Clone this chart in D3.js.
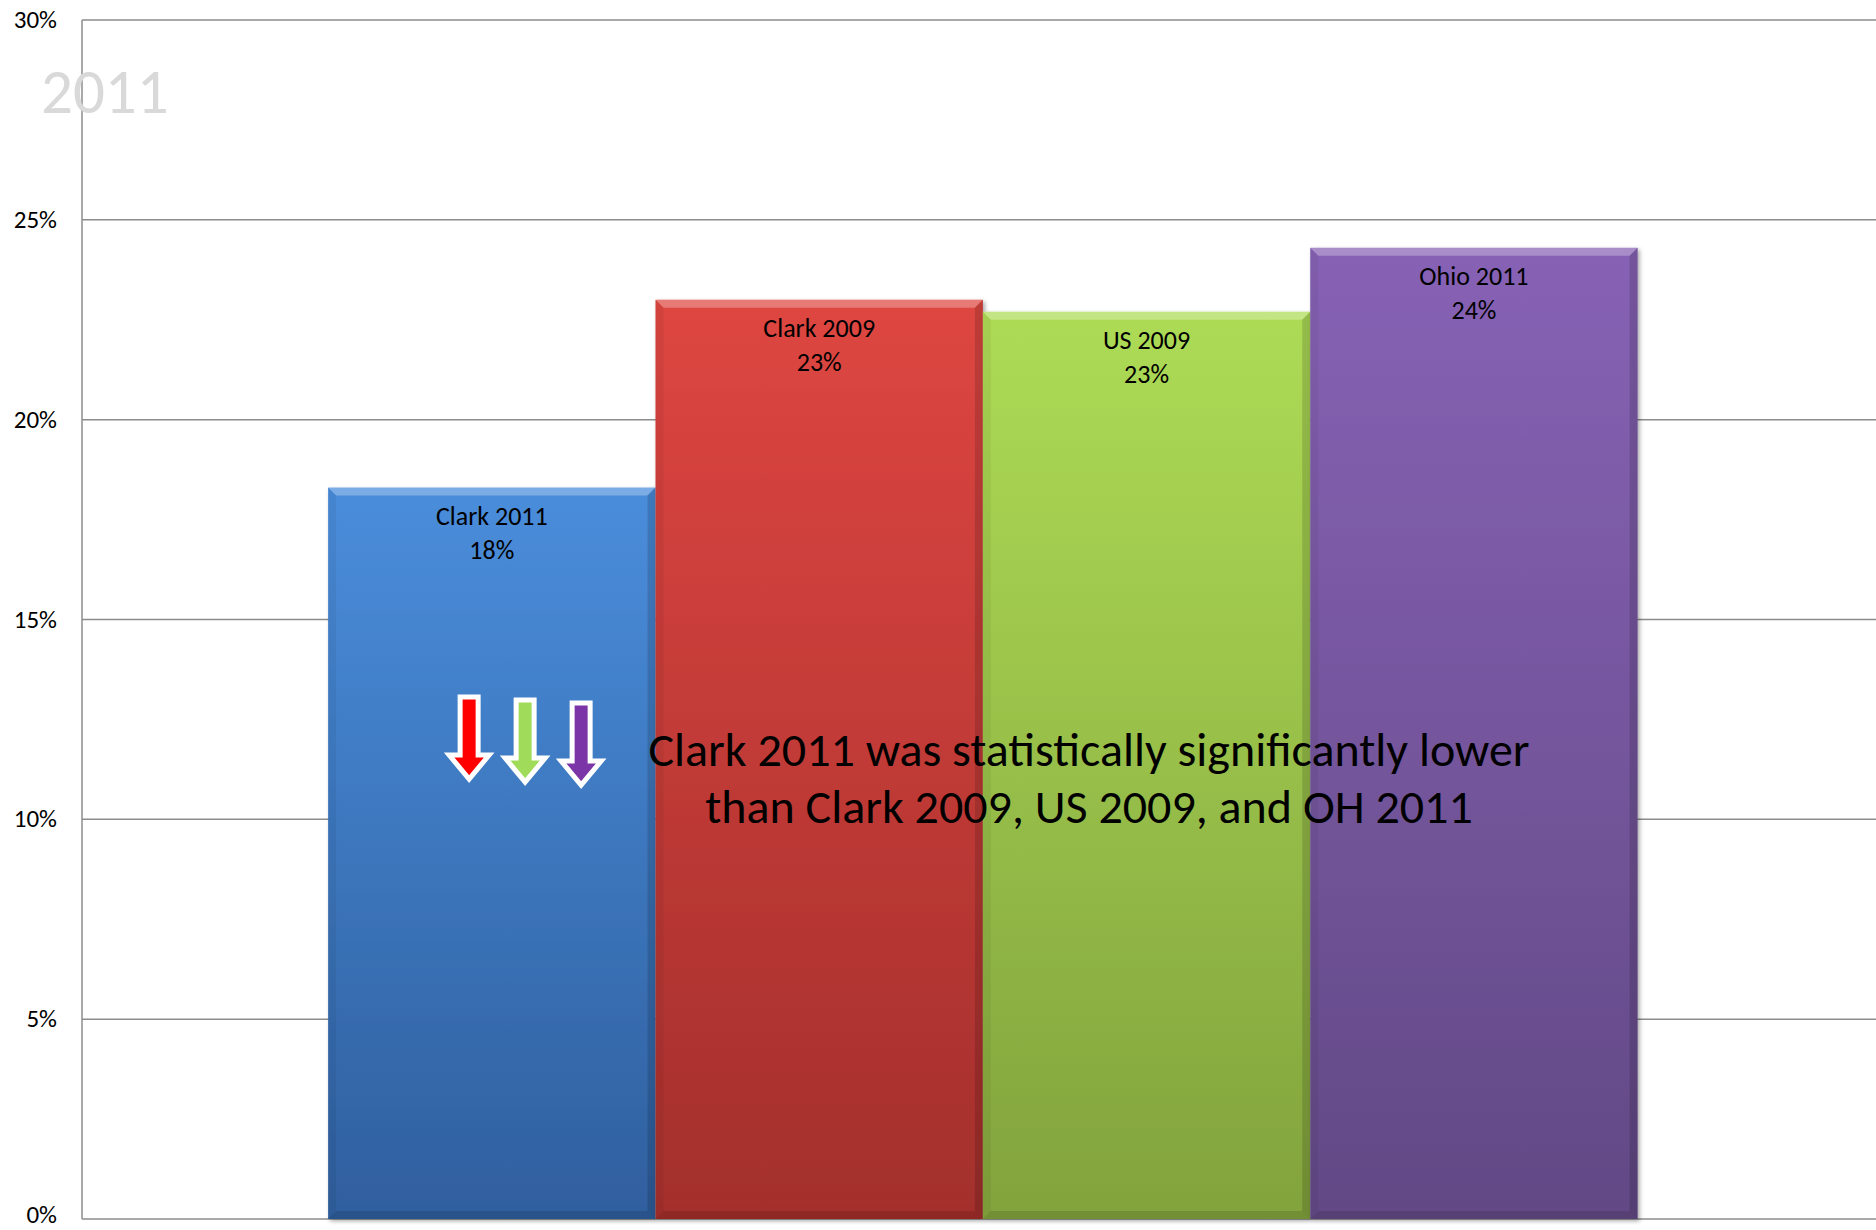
<!DOCTYPE html>
<html>
<head>
<meta charset="utf-8">
<script src="https://cdn.jsdelivr.net/npm/d3@7"></script>
<style>
  html, body { margin: 0; padding: 0; background: #fff; }
  svg { display: block; font-family: Carlito, Calibri, Lato, sans-serif; }
</style>
</head>
<body>
<svg id="chart" width="1876" height="1230"></svg>
<script>
// data
const series = ["Clark 2011", "Clark 2009", "US 2009", "Ohio 2011"];
const values = [18.3, 23.0, 22.7, 24.3];
const valueLabels = ["18%", "23%", "23%", "24%"];
const yTicks = [0, 5, 10, 15, 20, 25, 30];
const barColors = [
    ["#4a8ddb", "#2f5f9e"],
    ["#de4641", "#a32f2c"],
    ["#addb55", "#82a33d"],
    ["#8762b5", "#624985"]
];
const arrowColors = ["#ff0000", "#a0dc5a", "#7b35a6"];
const note = ["Clark 2011 was statistically significantly lower",
              "than Clark 2009, US 2009, and OH 2011"];

const svg = d3.select("#chart"),
    width = 1876,
    height = 1230,
    margin = {top: 20, right: 0, bottom: 11, left: 82};

const x = d3.scaleBand()
    .domain(series)
    .range([margin.left, width - margin.right])
    .paddingInner(0)
    .paddingOuter(0.74)
    .align(0.508);

const y = d3.scaleLinear()
    .domain([0, 30])
    .range([height - margin.bottom, margin.top]);

const defs = svg.append("defs");

// gridlines
svg.append("g")
    .selectAll("line")
    .data(yTicks)
    .join("line")
    .attr("x1", margin.left)
    .attr("x2", width - margin.right)
    .attr("y1", d => y(d))
    .attr("y2", d => y(d))
    .style("stroke", "#8c8c8c")
    .style("stroke-width", 1.5);

// left axis line
svg.append("line")
    .attr("x1", margin.left).attr("x2", margin.left)
    .attr("y1", y(30)).attr("y2", y(0))
    .style("stroke", "#8c8c8c")
    .style("stroke-width", 1.5);

// tick labels (0% sits right on the bottom edge, so nudge it up a bit)
svg.append("g")
    .selectAll("text")
    .data(yTicks)
    .join("text")
    .attr("x", 57)
    .attr("y", d => y(d) + (d === 0 ? 4 : 8))
    .attr("text-anchor", "end")
    .style("font-size", "25px")
    .style("fill", "#000")
    .text(d => d + "%");

// watermark year
svg.append("text")
    .attr("x", 41)
    .attr("y", 113)
    .style("font-size", "63px")
    .style("fill", "#d9d9d9")
    .text("2011");

// bars
const bars = series.map((s, i) => ({name: s, value: values[i], label: valueLabels[i], colors: barColors[i], i}));

bars.forEach(d => {
    const g = defs.append("linearGradient")
        .attr("id", "grad-" + d.i)
        .attr("x1", 0).attr("x2", 0).attr("y1", 0).attr("y2", 1);
    g.append("stop").attr("offset", "0%").attr("stop-color", d.colors[0]);
    g.append("stop").attr("offset", "100%").attr("stop-color", d.colors[1]);
});

const shadow = defs.append("filter").attr("id", "shadow")
    .attr("x", "-5%").attr("y", "-5%").attr("width", "115%").attr("height", "115%");
shadow.append("feDropShadow")
    .attr("dx", 2).attr("dy", 2).attr("stdDeviation", 2)
    .attr("flood-color", "#000").attr("flood-opacity", 0.35);

const bev = 8;
const node = svg.append("g").selectAll("g")
    .data(bars)
    .join("g");

node.append("rect")
    .attr("x", d => x(d.name))
    .attr("y", d => y(d.value))
    .attr("width", x.bandwidth())
    .attr("height", d => y(0) - y(d.value))
    .style("fill", d => `url(#grad-${d.i})`)
    .attr("filter", "url(#shadow)");

// bevel: top light, sides and bottom darker
node.append("polygon")
    .attr("points", d => {
        const x0 = x(d.name), x1 = x0 + x.bandwidth(), y0 = y(d.value);
        return [[x0, y0], [x1, y0], [x1 - bev, y0 + bev], [x0 + bev, y0 + bev]].join(" ");
    })
    .style("fill", "#fff").style("opacity", 0.28);
node.append("polygon")
    .attr("points", d => {
        const x0 = x(d.name), x1 = x0 + x.bandwidth(), y0 = y(d.value), yb = y(0);
        return [[x1, y0], [x1, yb], [x1 - bev, yb - bev], [x1 - bev, y0 + bev]].join(" ");
    })
    .style("fill", "#000").style("opacity", 0.14);
node.append("polygon")
    .attr("points", d => {
        const x0 = x(d.name), y0 = y(d.value), yb = y(0);
        return [[x0, y0], [x0 + bev, y0 + bev], [x0 + bev, yb - bev], [x0, yb]].join(" ");
    })
    .style("fill", "#000").style("opacity", 0.05);
node.append("polygon")
    .attr("points", d => {
        const x0 = x(d.name), x1 = x0 + x.bandwidth(), yb = y(0);
        return [[x0, yb], [x0 + bev, yb - bev], [x1 - bev, yb - bev], [x1, yb]].join(" ");
    })
    .style("fill", "#000").style("opacity", 0.12);

// bar labels
const lbl = node.append("text")
    .attr("text-anchor", "middle")
    .style("font-size", "26px")
    .style("fill", "#000");
lbl.append("tspan")
    .attr("x", d => x(d.name) + x.bandwidth() / 2)
    .attr("y", d => y(d.value) + 37)
    .text(d => d.name);
lbl.append("tspan")
    .attr("x", d => x(d.name) + x.bandwidth() / 2)
    .attr("y", d => y(d.value) + 71)
    .text(d => d.label);

// down arrows inside the first bar
const ax0 = x(series[0]);
svg.append("g").selectAll("path")
    .data(arrowColors)
    .join("path")
    .attr("transform", (d, i) => `translate(${ax0 + 141 + i * 56},${y(13.06) + i * 3})`)
    .attr("d", "M-9,0 L9,0 L9,58 L20,58 L0,82 L-20,58 L-9,58 Z")
    .style("fill", d => d)
    .style("stroke", "#fff")
    .style("stroke-width", 5)
    .style("stroke-linejoin", "miter");

// annotation
const cx = 1089;
svg.append("g").selectAll("text")
    .data(note)
    .join("text")
    .attr("x", cx)
    .attr("y", (d, i) => y(11.33) + i * 57)
    .attr("text-anchor", "middle")
    .style("font-size", "48px")
    .style("fill", "#000")
    .text(d => d);
</script>
</body>
</html>
